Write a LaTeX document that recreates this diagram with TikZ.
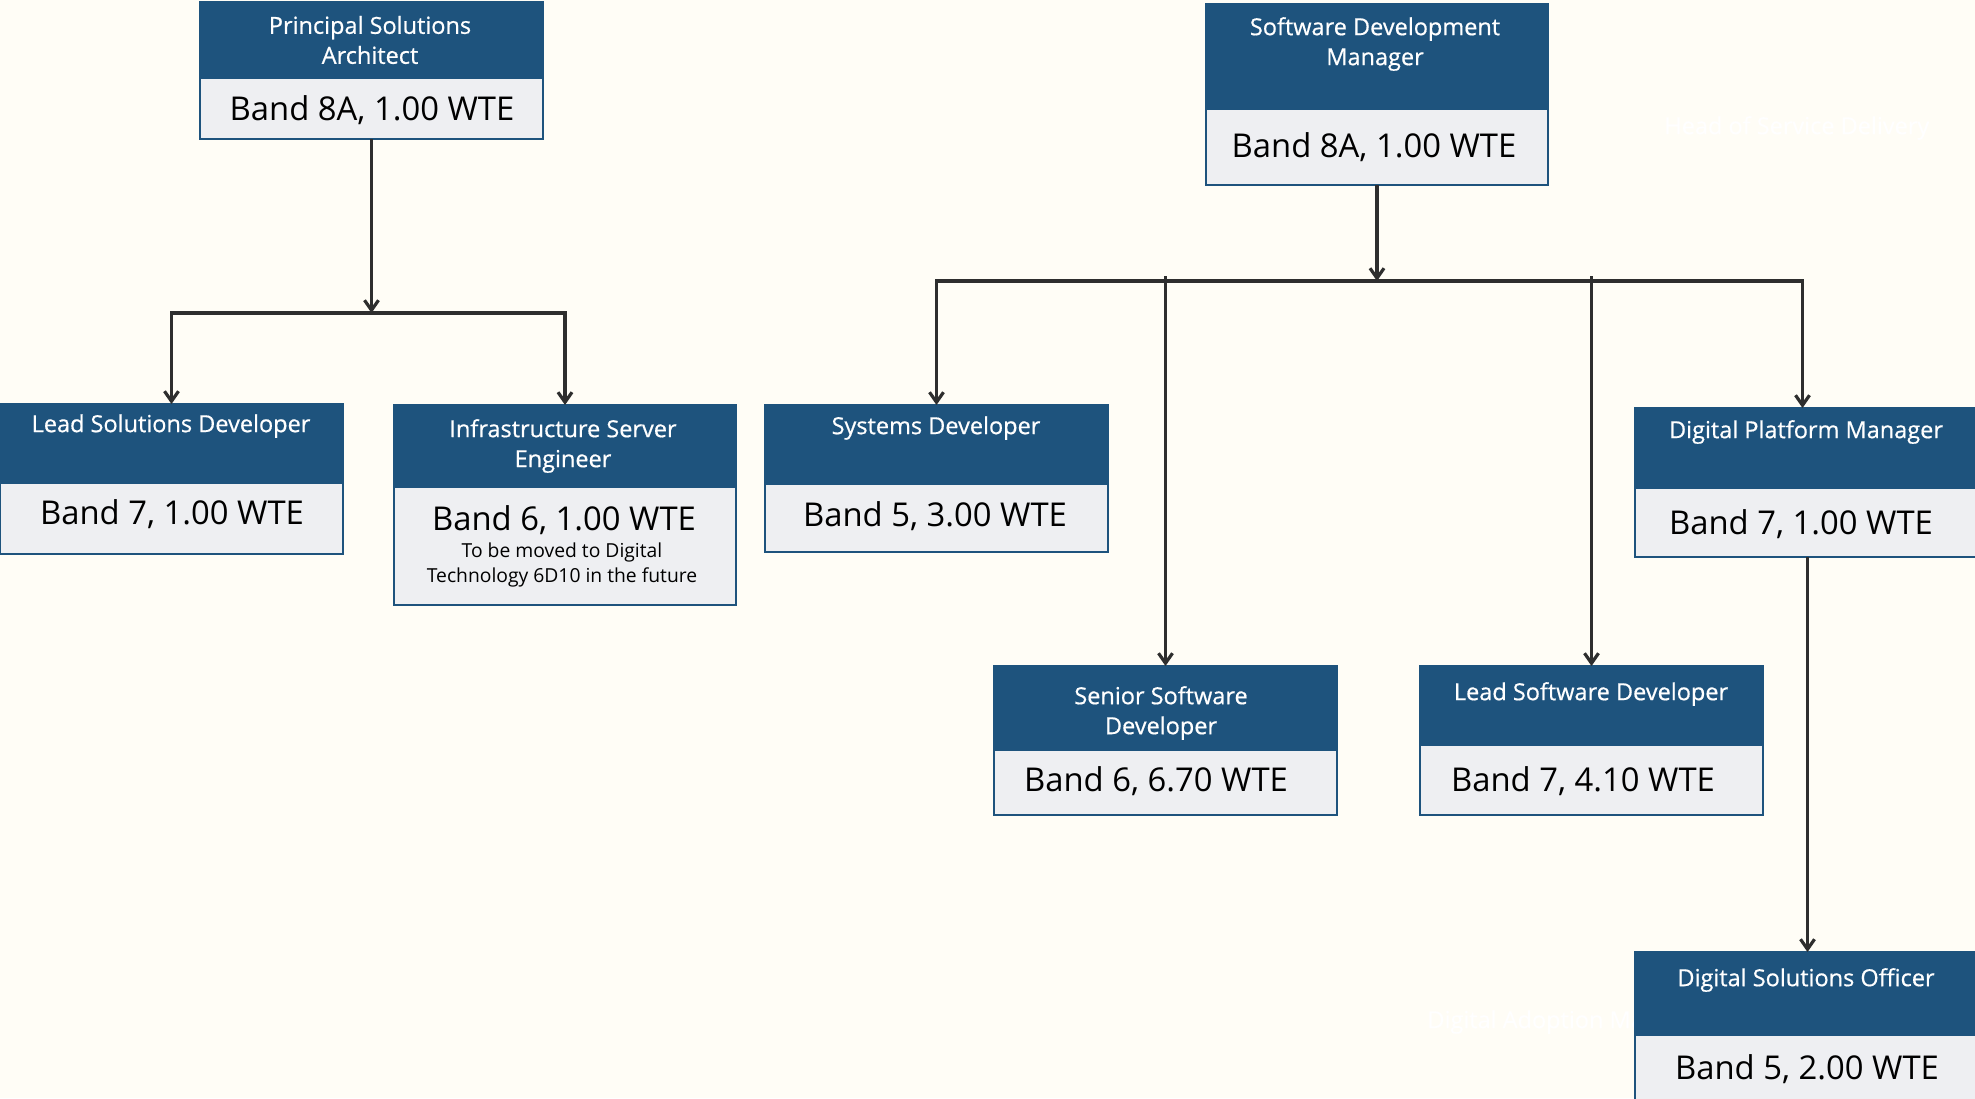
\documentclass[tikz,border=0pt]{standalone}
\usepackage{fontspec}
\setmainfont{Open Sans}
\newfontfamily\hdrfont[FakeBold=0.6]{Open Sans}
\usetikzlibrary{arrows.meta,fit}
\definecolor{bg}{HTML}{FFFDF6}
\definecolor{hdrblue}{HTML}{1E537D}
\definecolor{bandgray}{HTML}{EEEFF2}
\definecolor{lnk}{HTML}{2E2E2E}
\newcommand\orgbox[6]{%
 \pgfmathsetmacro\obw{(#4-#2)*0.5}%
 \pgfmathsetmacro\ohh{(#5-#3)*0.5}%
 \pgfmathsetmacro\obh{(#6-#5)*0.5}%
 \node[hdr, minimum width=\obw pt, minimum height=\ohh pt, anchor=north west] (#1h) at (#2,#3) {};
 \node[bandbox, minimum width=\obw pt, minimum height=\obh pt, anchor=north west] (#1b) at (#2,#5) {};
 \node[frame, fit=(#1h)(#1b)] (#1) {};
}
\begin{document}
\begin{tikzpicture}[x=0.5pt,y=-0.5pt,
 hdr/.style={fill=hdrblue, draw=none, inner sep=0, outer sep=0},
 bandbox/.style={fill=bandgray, draw=none, inner sep=0, outer sep=0},
 frame/.style={draw=hdrblue, line width=1.2pt, inner sep=0, outer sep=0},
 ttl/.style={text=white, font=\hdrfont\fontsize{11.75}{15}\selectfont, align=center, inner sep=0},
 bandtxt/.style={text=black, font=\fontsize{16.4}{20}\selectfont, inner sep=0},
 note/.style={text=black, font=\fontsize{9.65}{12.5}\selectfont, align=center, inner sep=0},
 conn/.style={draw=lnk, line width=1.6pt, -{Straight Barb[length=5pt,width=7pt]}},
]
\useasboundingbox (0,0) rectangle (1975,1098);
\fill[bg] (0,0) rectangle (1975,1098);

% faint white texts behind
\node[ttl, anchor=west] (hsd) at (1664,128) {Head of Service Delivery};
\node[ttl, anchor=west] (dam) at (1427,1022) {Digital Adoption Manager};

% boxes
\orgbox{psa}{200}{2}{543}{79}{139}
\orgbox{lsol}{0}{404}{343}{484}{554}
\orgbox{ise}{394}{405}{736}{488}{605}
\orgbox{sdm}{1206}{4}{1548}{110}{185}
\orgbox{sys}{765}{405}{1108}{485}{552}
\orgbox{ssd}{994}{666}{1337}{751}{815}
\orgbox{lsw}{1420}{666}{1763}{746}{815}
\orgbox{dpm}{1635}{408}{1980}{489}{557}
\orgbox{dso}{1635}{952}{1980}{1036}{1110}

% texts
\node[ttl] (psat) at (370,40) {Principal Solutions\\Architect};
\node[bandtxt] (psav) at (372,110) {Band 8A, 1.00 WTE};
\node[ttl] (lsolt) at (171,426) {Lead Solutions Developer};
\node[bandtxt] (lsolv) at (172,514) {Band 7, 1.00 WTE};
\node[ttl] (iset) at (563,446) {Infrastructure Server\\Engineer};
\node[bandtxt] (isev) at (564,520) {Band 6, 1.00 WTE};
\node[note] (isen) at (562,565) {To be moved to Digital\\Technology 6D10 in the future};
\node[ttl] (sdmt) at (1375,44) {Software Development\\Manager};
\node[bandtxt] (sdmv) at (1374,147) {Band 8A, 1.00 WTE};
\node[ttl] (syst) at (936,428) {Systems Developer};
\node[bandtxt] (sysv) at (935,516) {Band 5, 3.00 WTE};
\node[ttl] (ssdt) at (1161,713) {Senior Software\\Developer};
\node[bandtxt] (ssdv) at (1156,781) {Band 6, 6.70 WTE};
\node[ttl] (lswt) at (1591,694) {Lead Software Developer};
\node[bandtxt] (lswv) at (1583,781) {Band 7, 4.10 WTE};
\node[ttl] (dpmt) at (1806,432) {Digital Platform Manager};
\node[bandtxt] (dpmv) at (1801,524) {Band 7, 1.00 WTE};
\node[ttl] (dsot) at (1806,980) {Digital Solutions Officer};
\node[bandtxt] (dsov) at (1807,1069) {Band 5, 2.00 WTE};

% connectors
\coordinate (lvl1) at (0,313);
\coordinate (lvl2) at (0,281);
\coordinate (lvl2b) at (0,276);
\coordinate (psaj) at (psa.south |- lvl1);
\coordinate (sdmj) at (sdm.south |- lvl2);
\draw[conn] (psa.south) -- (psaj);
\draw[conn] (psaj) -| (lsol.north);
\draw[conn] (psaj) -| (ise.north);
\draw[conn] (sdm.south) -- (sdmj);
\draw[conn] (sdmj) -| (sys.north);
\draw[conn] (sdmj) -| ([xshift=-2.5pt]dpm.north);
\draw[conn] (ssd.north |- lvl2b) -- (ssd.north);
\draw[conn] (lsw.north |- lvl2b) -- (lsw.north);
\draw[conn] (dpm.south) -- (dpm.south |- dso.north);
\end{tikzpicture}
\end{document}
